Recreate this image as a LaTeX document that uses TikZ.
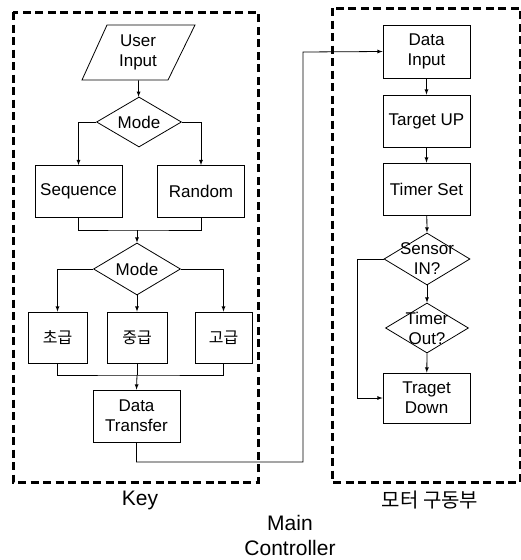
\documentclass[tikz,border=0pt]{standalone}
\usepackage{fontspec}
\setmainfont{Liberation Sans}
\newfontfamily\korfont{Noto Sans CJK KR}
\usetikzlibrary{shapes.geometric}

\tikzset{
  proc/.style={draw,rectangle,minimum width=87pt,minimum height=52pt,inner sep=1pt,align=center,font=\fontsize{17}{20}\selectfont},
  lvl/.style={proc,minimum width=59pt,minimum height=51pt,font=\korfont\fontsize{16}{20}\selectfont},
  dec/.style={draw,diamond,inner sep=0pt,minimum width=86pt,minimum height=52pt},
  dtext/.style={align=center,inner sep=0pt,font=\fontsize{17}{20}\selectfont},
  grp/.style={draw,line width=3pt,dash pattern=on 8pt off 4.5pt},
  caption/.style={align=center,font=\fontsize{21}{25}\selectfont},
}

\begin{document}
\begin{tikzpicture}[x={(1pt,0pt)}, y={(0pt,-1pt)}, >=latex, line width=0.8pt]
  \useasboundingbox (0,0) rectangle (521,560);
  % Groups
  \draw[grp] (13,12) rectangle (258,482);
  \draw[grp] (332,8) rectangle (520,482);

  % Key side
  \node[dtext,minimum height=55pt] (userin) at (138,52.5) {User\\Input};
  \draw (107,25) -- (195,25) -- (168,80) -- (82,80) -- cycle; % input box
  \node[dec,minimum width=85pt,minimum height=50pt] (mode1) at (139,122) {};
  \node[dtext] (mode1t) at (mode1) {Mode};
  \node[proc] (seq) at (78.5,191.5) {Sequence};
  \node[proc] (rnd) at (201,191.5) {Random};
  \node[dec,minimum width=87pt,minimum height=52pt] (mode2) at (137,269) {};
  \node[dtext] (mode2t) at (mode2) {Mode};
  \node[lvl] (lv1) at (57.5,337.5) {초급};
  \node[lvl,minimum width=60pt] (lv2) at (137,337.5) {중급};
  \node[lvl,minimum width=57pt] (lv3) at (223.5,337.5) {고급};
  \node[proc] (xfer) at (136.5,416) {Data\\Transfer};

  % Motor side
  \node[proc,minimum height=53pt] (datain) at (426.5,51.5) {Data\\Input};
  \node[proc] (tup) at (426.5,121) {Target UP};
  \node[proc] (tset) at (426.5,189) {Timer Set};
  \node[dec] (sens) at (427,259) {};
  \node[dtext] (senst) at (sens) {Sensor\\IN?};
  \node[dec,minimum width=83pt,minimum height=50pt] (tout) at (427,328) {};
  \node[dtext] (toutt) at (tout) {Timer\\Out?};
  \node[proc,minimum height=50pt] (tdown) at (426.5,398) {Traget\\Down};

  % Junctions
  \coordinate (j1) at (137,230);
  \coordinate (j2) at (137,375);
  \coordinate (mc1) at (303,462);
  \coordinate (mc2) at (303,52);
  \coordinate (byp) at (357,398);

  % Edges
  \draw[->] (userin) -- (mode1);
  \draw[->] (mode1.west) -| (seq.north);
  \draw[->] (mode1.east) -| (rnd.north);
  \draw (seq.south) |- (j1) -| (rnd.south);
  \draw[->] (j1) -- (mode2.north);
  \draw[->] (mode2.west) -| (lv1.north);
  \draw[->] (mode2.south) -- (lv2.north);
  \draw[->] (mode2.east) -| (lv3.north);
  \draw (lv1.south) |- (j2) -| (lv3.south);
  \draw (lv2.south) -- (j2);
  \draw[->] (j2) -- (xfer.north);
  \draw[->] (xfer.south) |- (mc1) -- (mc2) -- (datain.west);

  \draw[->] (datain) -- (tup);
  \draw[->] (tup) -- (tset);
  \draw[->] (tset) -- (sens.north);
  \draw[->] (sens.south) -- (tout.north);
  \draw[->] (tout.south) -- (tdown);
  \draw[->] (sens.west) -| (byp) -- (tdown.west);

  % Captions
  \node[caption] (keyl) at (140,500) {Key};
  \node[caption,font=\korfont\fontsize{20}{25}\selectfont] (motl) at (430,500) {모터 구동부};
  \node[caption] (mainl) at (290,535) {Main\\Controller};
\end{tikzpicture}
\end{document}
